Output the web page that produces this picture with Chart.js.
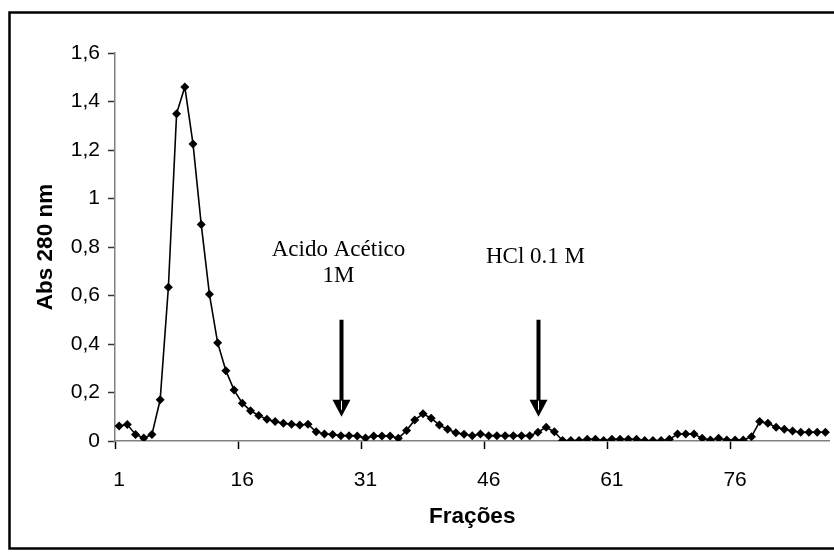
<!DOCTYPE html>
<html>
<head>
<meta charset="utf-8">
<title>Abs 280 nm</title>
<script src="https://cdn.jsdelivr.net/npm/chart.js@4.4.1/dist/chart.umd.min.js"></script>
<style>
  html, body { margin: 0; padding: 0; background: #fff; }
  canvas { display: block; }
</style>
</head>
<body>
<canvas id="graph" width="834" height="556"></canvas>
<script>
// fraction numbers along the x axis
var fractions = ["1","2","3","4","5","6","7","8","9","10",
    "11","12","13","14","15","16","17","18","19","20",
    "21","22","23","24","25","26","27","28","29","30",
    "31","32","33","34","35","36","37","38","39","40",
    "41","42","43","44","45","46","47","48","49","50",
    "51","52","53","54","55","56","57","58","59","60",
    "61","62","63","64","65","66","67","68","69","70",
    "71","72","73","74","75","76","77","78","79","80",
    "81","82","83","84","85","86","87"];

// absorbance at 280 nm for each fraction
var absorbance = [0.062, 0.068, 0.027, 0.012, 0.027, 0.170, 0.634, 1.350, 1.460, 1.225,
    0.893, 0.605, 0.405, 0.290, 0.210, 0.156, 0.125, 0.105, 0.090, 0.080,
    0.073, 0.069, 0.066, 0.069, 0.038, 0.029, 0.027, 0.022, 0.022, 0.021,
    0.012, 0.021, 0.021, 0.021, 0.011, 0.043, 0.087, 0.112, 0.094, 0.066,
    0.048, 0.034, 0.028, 0.022, 0.029, 0.022, 0.022, 0.022, 0.022, 0.022,
    0.022, 0.036, 0.057, 0.038, 0.002, 0.002, 0.002, 0.007, 0.007, 0.002,
    0.007, 0.007, 0.007, 0.007, 0.002, 0.002, 0.002, 0.007, 0.029, 0.029,
    0.029, 0.011, 0.004, 0.011, 0.004, 0.004, 0.004, 0.018, 0.080, 0.073,
    0.057, 0.048, 0.041, 0.036, 0.036, 0.036, 0.036];

// only these fractions get a label and a tick mark
var tickLabels = ["1", "16", "31", "46", "61", "76"];

// elution markers: fraction where the buffer changed, and its caption
var elutionFractions = ["28", "52"];
var elutionCaptions = [["Acido Acético", "1M"], ["HCl 0.1 M"]];

var sans = "'Liberation Sans', Arial, sans-serif";
var serif = "'Liberation Serif', 'Times New Roman', serif";

function commaDecimal(v) {
    return String(Number(v.toFixed(1))).replace(".", ",");
}

// arrows and captions for the buffer changes, plus the outer frame
var elutionPlugin = {
    id: "elution",
    afterDatasetsDraw: function(chart) {
        var ctx = chart.ctx;
        var x = chart.scales.x, y = chart.scales.y;
        ctx.save();
        elutionFractions.forEach(function(f, i) {
            var px = Math.round(x.getPixelForValue(fractions.indexOf(f))) + 0.5;
            var top = y.getPixelForValue(0.5);
            var tip = y.getPixelForValue(0.1);
            var headTop = tip - 17;

            ctx.strokeStyle = "#000";
            ctx.lineWidth = 4;
            ctx.beginPath();
            ctx.moveTo(px, top);
            ctx.lineTo(px, headTop + 1);
            ctx.stroke();

            ctx.fillStyle = "#000";
            ctx.beginPath();
            ctx.moveTo(px - 9, headTop);
            ctx.lineTo(px + 9, headTop);
            ctx.lineTo(px, tip);
            ctx.closePath();
            ctx.fill();

            ctx.strokeStyle = "#fff";
            ctx.lineWidth = 1;
            ctx.beginPath();
            ctx.moveTo(px, headTop + 1);
            ctx.lineTo(px, headTop + 10);
            ctx.stroke();

            ctx.fillStyle = "#000";
            ctx.font = "23px " + serif;
            ctx.textAlign = "center";
            ctx.textBaseline = "alphabetic";
            var base = i === 0 ? y.getPixelForValue(0.764) : y.getPixelForValue(0.735);
            elutionCaptions[i].forEach(function(line, k) {
                ctx.fillText(line, px - 3, base + k * 26);
            });
        });

        // chart frame
        ctx.strokeStyle = "#000";
        ctx.lineWidth = 2.5;
        ctx.strokeRect(9.5, 12.5, 840, 536);
        ctx.restore();
    }
};

var data = {
    labels: fractions,
    datasets: [{
        label: "Abs 280 nm",
        data: absorbance,
        borderColor: "#000",
        borderWidth: 1.6,
        backgroundColor: "#000",
        pointStyle: "rectRot",
        pointRadius: 4.5,
        pointBorderWidth: 0,
        pointBackgroundColor: "#000",
        tension: 0,
        fill: false
    }]
};

var options = {
    responsive: false,
    animation: false,
    devicePixelRatio: 1,
    layout: { padding: { top: 53, right: 0, left: 0, bottom: 0 } },
    plugins: {
        legend: { display: false },
        tooltip: { enabled: false }
    },
    scales: {
        x: {
            type: "category",
            offset: true,
            afterFit: function(scale) {
                scale.height = 115;
                scale.paddingRight = 0;
            },
            border: { color: "#808080", width: 1.5 },
            grid: {
                offset: true,
                drawOnChartArea: false,
                tickLength: 8,
                tickWidth: 1.5,
                tickColor: function(c) {
                    var lbl = fractions[c.index];
                    return tickLabels.indexOf(lbl) >= 0 ? "#000" : "rgba(0,0,0,0)";
                }
            },
            ticks: {
                autoSkip: false,
                maxRotation: 0,
                padding: 19,
                color: "#000",
                font: { family: sans, size: 21 },
                callback: function(v, i) {
                    var lbl = fractions[i];
                    return tickLabels.indexOf(lbl) >= 0 ? lbl : "";
                }
            },
            title: {
                display: true,
                text: "Frações",
                color: "#000",
                font: { family: sans, size: 22.5, weight: "bold" },
                padding: { top: 0, bottom: 26 }
            }
        },
        y: {
            min: 0,
            max: 1.6,
            afterFit: function(scale) { scale.width = 115; },
            border: { color: "#808080", width: 1.5 },
            grid: {
                drawOnChartArea: false,
                tickLength: 7,
                tickWidth: 1.5,
                tickColor: "#333"
            },
            ticks: {
                stepSize: 0.2,
                padding: 8,
                color: "#000",
                font: { family: sans, size: 21 },
                callback: function(v) { return commaDecimal(v); }
            },
            title: {
                display: true,
                text: "Abs 280 nm",
                color: "#000",
                font: { family: sans, size: 22.5, weight: "bold" },
                padding: { top: 32, bottom: 0 }
            }
        }
    }
};

new Chart(document.getElementById("graph").getContext("2d"), {
    type: "line",
    data: data,
    options: options,
    plugins: [elutionPlugin]
});
</script>
</body>
</html>
